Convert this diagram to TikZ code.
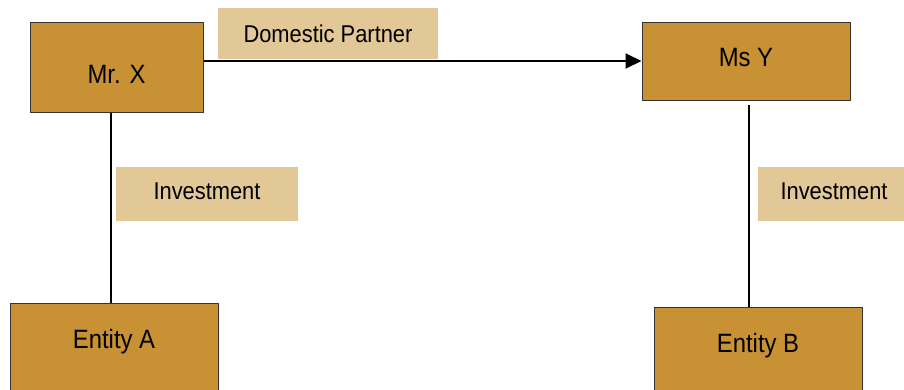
\documentclass[tikz,border=0pt]{standalone}
\usepackage{fontspec}
\setmainfont{Liberation Sans}[FakeStretch=0.9]
\usetikzlibrary{arrows.meta}
\definecolor{boxfill}{RGB}{200,145,51}
\definecolor{tagfill}{RGB}{226,199,151}
\definecolor{boxline}{RGB}{55,50,45}
\begin{document}
\begin{tikzpicture}[x=1pt, y=-1pt, line join=round, >={Triangle[length=16pt,width=15pt]}]
    \tikzset{party/.style={draw=boxline, fill=boxfill, line width=1pt, inner sep=0pt, font=\fontsize{26.5}{30}\selectfont},
        tag/.style={fill=tagfill, inner sep=0pt, text height=17pt, text depth=0pt, font=\fontsize{24.3}{28}\selectfont},
        link/.style={line width=2pt}}
    \useasboundingbox (0,0) rectangle (904,389);
    \clip (0,0) rectangle (904,389);
    % parties
    \node[party, minimum width=173pt, minimum height=90pt, text height=33pt, text depth=0pt] (mrx) at (116.5,67) {Mr. X};
    \node[party, minimum width=208pt, minimum height=78pt, text height=19pt, text depth=8pt] (msy) at (746,61) {Ms Y};
    \node[party, anchor=north, minimum width=208pt, minimum height=120pt, text height=19pt, text depth=49pt] (enta) at (114,303) {Entity A};
    \node[party, anchor=north, minimum width=208pt, minimum height=120pt, text height=19pt, text depth=49pt] (entb) at (758,307) {Entity B};
    % relation tags
    \node[tag, minimum width=220pt, minimum height=51pt] (partner) at (328,33.5) {Domestic Partner};
    \node[tag, minimum width=182pt, minimum height=54pt, text depth=6pt] (investl) at (207,194) {Investment};
    \node[tag, minimum width=152pt, minimum height=54pt, text depth=6pt] (investr) at (834,194) {Investment};
    % links
    \draw[link, ->] (mrx.east |- msy.west) -- (msy.west);
    \draw[link] ([xshift=-5.5pt]mrx.south) -- ([xshift=-3pt]enta.north);
    \draw[link] ([shift={(3,4)}]msy.south) -- ([xshift=-9pt]entb.north);
\end{tikzpicture}
\end{document}
